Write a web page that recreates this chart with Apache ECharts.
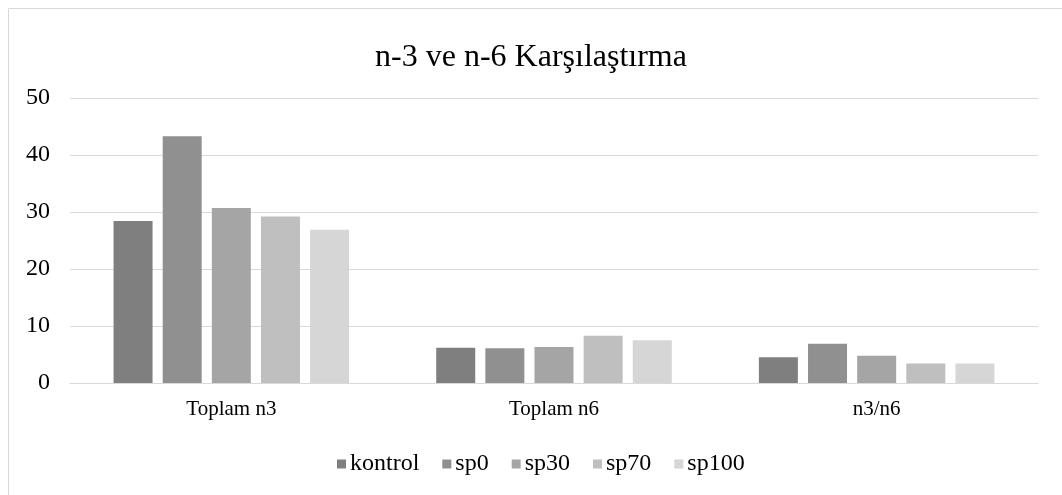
<!DOCTYPE html>
<html>
<head>
<meta charset="utf-8">
<script src="https://cdn.jsdelivr.net/npm/echarts@6/dist/echarts.min.js"></script>
<style>
  html, body { margin: 0; padding: 0; background: #fff; }
  #chart { width: 1062px; height: 495px; }
</style>
</head>
<body>
<div id="chart"></div>
<script>
// kategoriler ve seriler
var categories = ['Toplam n3', 'Toplam n6', 'n3/n6'];
var seriesNames = ['kontrol', 'sp0', 'sp30', 'sp70', 'sp100'];
var kontrol = [28.4, 6.2, 4.5];
var sp0 = [43.3, 6.1, 6.9];
var sp30 = [30.7, 6.3, 4.8];
var sp70 = [29.2, 8.3, 3.4];
var sp100 = [26.9, 7.5, 3.4];
var yTicks = [0, 10, 20, 30, 40, 50];

var colors = ['#7f7f7f', '#909090', '#a5a5a5', '#bfbfbf', '#d6d6d6'];
var font = 'Liberation Serif';

var chart = echarts.init(document.getElementById('chart'));

var allData = [kontrol, sp0, sp30, sp70, sp100];
var series = [];
for (var i = 0; i < seriesNames.length; i++) {
  series.push({
    name: seriesNames[i],
    type: 'bar',
    data: allData[i],
    barWidth: 39,
    barGap: '26%',
    itemStyle: { color: colors[i] }
  });
}

var option = {
  animation: false,
  backgroundColor: '#fff',
  graphic: [{
    type: 'rect',
    shape: { x: 8.5, y: 8.5, width: 1100, height: 600 },
    style: { fill: 'none', stroke: '#d9d9d9', lineWidth: 1 },
    silent: true
  }],
  title: {
    text: 'n-3 ve n-6 Karşılaştırma',
    left: 'center',
    top: 37,
    textStyle: { fontFamily: font, fontSize: 32, fontWeight: 'normal', color: '#000' }
  },
  legend: {
    data: seriesNames,
    bottom: 14,
    left: 332,
    itemWidth: 9,
    itemHeight: 9,
    itemGap: 23,
    icon: 'rect',
    textStyle: { fontFamily: font, fontSize: 24, color: '#000', padding: [0, 0, 0, -1] }
  },
  grid: { left: 70, right: 24, top: 98, bottom: 112 },
  xAxis: {
    type: 'category',
    data: categories,
    axisLine: { lineStyle: { color: '#d9d9d9', width: 1 } },
    axisTick: { show: false },
    axisLabel: { fontFamily: font, fontSize: 21, color: '#000', margin: 16 }
  },
  yAxis: {
    type: 'value',
    min: yTicks[0],
    max: yTicks[yTicks.length - 1],
    interval: 10,
    axisLine: { show: false },
    axisTick: { show: false },
    splitLine: { lineStyle: { color: '#d9d9d9', width: 1 } },
    axisLabel: { fontFamily: font, fontSize: 24, color: '#000', margin: 20 }
  },
  series: series
};

chart.setOption(option);
</script>
</body>
</html>
